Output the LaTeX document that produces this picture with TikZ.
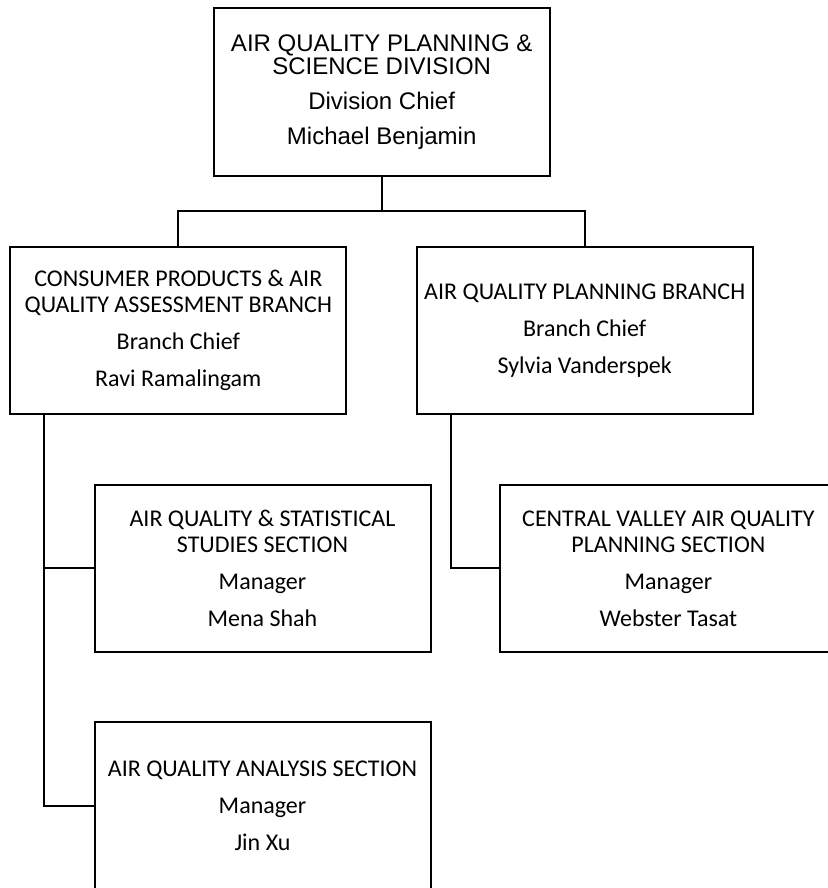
\documentclass[tikz,border=0pt]{standalone}
\usepackage{fontspec}
\setmainfont{Carlito}
\newfontfamily\arialfont{Liberation Sans}
\usepackage{tikz}

\begin{document}
\begin{tikzpicture}[x=0.5pt,y=-0.5pt,line width=1pt,line cap=rect,
  unit/.style={draw,line width=1pt,minimum width=168pt,minimum height=83.5pt,inner sep=0pt,
    align=center,font=\fontsize{12pt}{13pt}\selectfont},
  division/.style={unit,font=\arialfont\fontsize{12pt}{11.7pt}\selectfont}]
\useasboundingbox (0,0) rectangle (828,888);
\clip (0,0) rectangle (828,888);
\node[division] (div) at (381.7,92) {AIR QUALITY PLANNING \&\\SCIENCE DIVISION\\[5.8pt]Division Chief\\[5.8pt]Michael Benjamin};
\node[unit] (cpb) at (178.3,330.3) {CONSUMER PRODUCTS \& AIR\\QUALITY ASSESSMENT BRANCH\\[5.5pt]Branch Chief\\[5.5pt]Ravi Ramalingam};
\node[unit] (aqpb) at (584.7,330.3) {AIR QUALITY PLANNING BRANCH\\[5.5pt]Branch Chief\\[5.5pt]Sylvia Vanderspek};
\node[unit] (stat) at (262.5,568.4) {AIR QUALITY \& STATISTICAL\\STUDIES SECTION\\[5.5pt]Manager\\[5.5pt]Mena Shah};
\node[unit] (cv) at (668.4,568.4) {CENTRAL VALLEY AIR QUALITY\\PLANNING SECTION\\[5.5pt]Manager\\[5.5pt]Webster Tasat};
\node[unit] (anal) at (262.5,805.5) {AIR QUALITY ANALYSIS SECTION\\[5.5pt]Manager\\[5.5pt]Jin Xu};
\coordinate (bus) at (381.7,211);
\coordinate (cpbfoot) at (43.7,414);
\coordinate (aqpbfoot) at (450.7,414);
\draw (div.south) -- (bus);
\draw (cpb.north) |- (bus) -| (aqpb.north);
\draw (cpbfoot) |- (stat.west);
\draw (cpbfoot) |- (anal.west);
\draw (aqpbfoot) |- (cv.west);
\end{tikzpicture}
\end{document}
